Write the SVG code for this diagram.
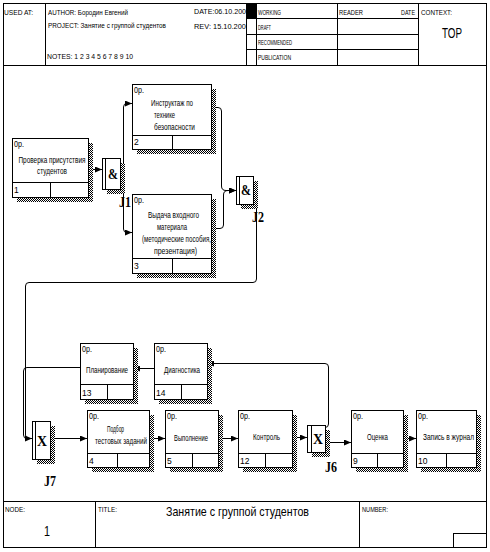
<svg xmlns="http://www.w3.org/2000/svg" width="490" height="552" viewBox="0 0 490 552">
<style>
.f{fill:none;stroke:#000;stroke-width:1}
.b{fill:#fff;stroke:#000;stroke-width:1}
.sh{fill:url(#hatch);stroke:none}
.t{font-family:"Liberation Sans",Arial,sans-serif;font-size:8.5px;fill:#000}
.h{font-family:"Liberation Sans",Arial,sans-serif;font-size:8px;fill:#000}
.bt{font-family:"Liberation Sans",Arial,sans-serif;font-size:8.5px;fill:#000;text-anchor:middle}
.j{font-family:"Liberation Serif","Times New Roman",serif;font-weight:bold;font-size:15px;fill:#000}
.jg{font-family:"Liberation Serif","Times New Roman",serif;font-weight:bold;font-size:15px;fill:#000;text-anchor:middle}
.c{fill:none;stroke:#000;stroke-width:1;marker-end:url(#arr)}
</style>
<defs>
<pattern id="hatch" width="2" height="2" patternUnits="userSpaceOnUse">
<rect width="2" height="2" fill="#fff"/>
<rect width="1" height="1" fill="#000"/>
<rect x="1" y="1" width="1" height="1" fill="#000"/>
</pattern>
<marker id="arr" markerWidth="7" markerHeight="6" refX="7" refY="3" orient="auto" markerUnits="userSpaceOnUse">
<path d="M0,0 L7,3 L0,6 Z" fill="#000"/>
</marker>
<clipPath id="hc"><rect x="0" y="0" width="246" height="66"/></clipPath>
</defs>
<rect width="490" height="552" fill="#fff"/>

<g id="frame">
<rect x="3.5" y="3.5" width="483" height="544" class="f"/>
<line x1="3" y1="65.5" x2="487" y2="65.5" class="f"/>
<line x1="45.5" y1="3" x2="45.5" y2="65" class="f"/>
<line x1="246.5" y1="3" x2="246.5" y2="65" class="f"/>
<line x1="256.5" y1="3" x2="256.5" y2="65" class="f"/>
<line x1="337.5" y1="3" x2="337.5" y2="65" class="f"/>
<line x1="418.5" y1="3" x2="418.5" y2="65" class="f"/>
<line x1="246" y1="18.5" x2="418" y2="18.5" class="f"/>
<line x1="246" y1="34.5" x2="418" y2="34.5" class="f"/>
<line x1="246" y1="49.5" x2="418" y2="49.5" class="f"/>
<rect x="246.5" y="3.5" width="10" height="15" fill="#000"/>
<text class="h" x="4" y="15" textLength="29" lengthAdjust="spacingAndGlyphs">USED AT:</text>
<text class="h" x="48" y="15" textLength="80" lengthAdjust="spacingAndGlyphs">AUTHOR: Бородин Евгений</text>
<text class="h" x="48" y="28" textLength="118" lengthAdjust="spacingAndGlyphs">PROJECT: Занятие с группой студентов</text>
<text class="h" x="47" y="59" textLength="86" lengthAdjust="spacingAndGlyphs">NOTES: 1 2 3 4 5 6 7 8 9 10</text>
<g clip-path="url(#hc)">
<text class="h" x="194" y="14" textLength="56" lengthAdjust="spacingAndGlyphs">DATE:06.10.2006</text>
<text class="h" x="194" y="29" textLength="56" lengthAdjust="spacingAndGlyphs">REV:  15.10.2006</text>
</g>
<text class="h" x="258" y="15" textLength="23" lengthAdjust="spacingAndGlyphs">WORKING</text>
<text class="h" x="258" y="30" textLength="13" lengthAdjust="spacingAndGlyphs">DRAFT</text>
<text class="h" x="258" y="45" textLength="34" lengthAdjust="spacingAndGlyphs">RECOMMENDED</text>
<text class="h" x="258" y="60" textLength="33" lengthAdjust="spacingAndGlyphs">PUBLICATION</text>
<text class="h" x="339" y="15" textLength="24" lengthAdjust="spacingAndGlyphs">READER</text>
<text class="h" x="401" y="15" textLength="14" lengthAdjust="spacingAndGlyphs">DATE</text>
<text class="h" x="421" y="15" textLength="31" lengthAdjust="spacingAndGlyphs">CONTEXT:</text>
<text class="t" x="442" y="38" style="font-size:14px" textLength="20" lengthAdjust="spacingAndGlyphs">TOP</text>
<line x1="3" y1="501.5" x2="487" y2="501.5" class="f"/>
<line x1="95.5" y1="501" x2="95.5" y2="547" class="f"/>
<line x1="359.5" y1="501" x2="359.5" y2="547" class="f"/>
<rect x="453.5" y="533.5" width="33" height="14" class="f"/>
<text class="h" x="5" y="512" textLength="20" lengthAdjust="spacingAndGlyphs">NODE:</text>
<text class="h" x="98" y="512" textLength="19" lengthAdjust="spacingAndGlyphs">TITLE:</text>
<text class="h" x="362" y="512" textLength="26" lengthAdjust="spacingAndGlyphs">NUMBER:</text>
<text class="t" x="44" y="536" style="font-size:14px" textLength="6" lengthAdjust="spacingAndGlyphs">1</text>
<text class="t" x="166" y="516" style="font-size:13px" textLength="143" lengthAdjust="spacingAndGlyphs">Занятие с группой студентов</text>
</g>

<g id="connectors">
<path class="c" d="M88,169.5 H102"/>
<path class="c" d="M120,167.5 H121 Q123.5,167.5 123.5,165 V107 Q123.5,103.5 127,103.5 H132"/>
<path class="c" d="M120,177.5 H121 Q123.5,177.5 123.5,180 V229 Q123.5,232.5 127,232.5 H132"/>
<path class="c" d="M211,107.5 H218 Q221.5,107.5 221.5,111 V186 Q221.5,190.5 226,190.5 H236"/>
<path class="c" d="M211,228.5 H220 Q223.5,228.5 223.5,225 V195 Q223.5,190.5 228,190.5 H236"/>
<path class="f" d="M253,184.5 H253 Q256.5,184.5 256.5,188 V279 Q256.5,282.5 253,282.5 H29 Q25.5,282.5 25.5,286 V435 Q25.5,438.5 28,438.5"/>
<path class="c" d="M80,367.5 H27 Q23.5,367.5 23.5,371 V435 Q23.5,438.5 27,438.5 H32"/>
<path class="c" d="M154,368.5 H133"/>
<path class="c" d="M325,427.5 Q328.5,427.5 328.5,424 V367 Q328.5,363.5 325,363.5 H207"/>
<path class="c" d="M50,438.5 H87"/>
<path class="c" d="M149,438.5 H165"/>
<path class="c" d="M218,438.5 H238"/>
<path class="c" d="M292,437.5 H307"/>
<path class="c" d="M325,442.5 H351"/>
<path class="c" d="M403,438.5 H416"/>
</g>

<g id="node1">
<rect x="17" y="143" width="76" height="59" class="sh"/>
<rect x="12.5" y="138.5" width="76" height="59" class="b"/>
<line x1="12" y1="182.5" x2="88" y2="182.5" class="f"/>
<line x1="50.5" y1="182" x2="50.5" y2="197" class="f"/>
<text class="t" x="14" y="147" textLength="10" lengthAdjust="spacingAndGlyphs">0р.</text>
<text class="bt" x="52" y="163" textLength="67" lengthAdjust="spacingAndGlyphs">Проверка присутствия</text>
<text class="bt" x="52" y="174" textLength="30" lengthAdjust="spacingAndGlyphs">студентов</text>
<text class="t" x="14" y="193">1</text>
</g>

<g id="J1">
<rect x="107" y="163" width="18" height="31" class="sh"/>
<rect x="102.5" y="158.5" width="18" height="31" class="b"/>
<line x1="105.5" y1="158" x2="105.5" y2="189" class="f"/>
<text class="jg" x="113" y="179" textLength="10" lengthAdjust="spacingAndGlyphs">&amp;</text>
<text class="j" x="119" y="207" textLength="12" lengthAdjust="spacingAndGlyphs">J1</text>
</g>

<g id="node2">
<rect x="137" y="89" width="79" height="65" class="sh"/>
<rect x="132.5" y="84.5" width="79" height="65" class="b"/>
<line x1="132" y1="135.5" x2="211" y2="135.5" class="f"/>
<line x1="172.5" y1="135" x2="172.5" y2="149" class="f"/>
<text class="t" x="134" y="93" textLength="10" lengthAdjust="spacingAndGlyphs">0р.</text>
<text class="t" x="151" y="106" textLength="42" lengthAdjust="spacingAndGlyphs">Инструктаж по</text>
<text class="t" x="154" y="118" textLength="21" lengthAdjust="spacingAndGlyphs">технике</text>
<text class="t" x="154" y="130" textLength="41" lengthAdjust="spacingAndGlyphs">безопасности</text>
<text class="t" x="134" y="145">2</text>
</g>

<g id="node3">
<rect x="137" y="199" width="79" height="79" class="sh"/>
<rect x="132.5" y="194.5" width="79" height="79" class="b"/>
<line x1="132" y1="258.5" x2="211" y2="258.5" class="f"/>
<line x1="172.5" y1="258" x2="172.5" y2="273" class="f"/>
<text class="t" x="134" y="203" textLength="10" lengthAdjust="spacingAndGlyphs">0р.</text>
<text class="t" x="148" y="218" textLength="51" lengthAdjust="spacingAndGlyphs">Выдача входного</text>
<text class="t" x="157" y="230" textLength="30" lengthAdjust="spacingAndGlyphs">материала</text>
<text class="t" x="142" y="242" textLength="69" lengthAdjust="spacingAndGlyphs">(методические пособия,</text>
<text class="t" x="154" y="254" textLength="43" lengthAdjust="spacingAndGlyphs">презентация)</text>
<text class="t" x="134" y="269">3</text>
</g>

<g id="J2">
<rect x="241" y="181" width="17" height="28" class="sh"/>
<rect x="236.5" y="176.5" width="17" height="28" class="b"/>
<line x1="239.5" y1="176" x2="239.5" y2="204" class="f"/>
<text class="jg" x="246" y="195" textLength="10" lengthAdjust="spacingAndGlyphs">&amp;</text>
<text class="j" x="252" y="222" textLength="12" lengthAdjust="spacingAndGlyphs">J2</text>
</g>

<g id="node13">
<rect x="85" y="348" width="53" height="56" class="sh"/>
<rect x="80.5" y="343.5" width="53" height="56" class="b"/>
<line x1="80" y1="384.5" x2="133" y2="384.5" class="f"/>
<line x1="107.5" y1="384" x2="107.5" y2="399" class="f"/>
<text class="t" x="82" y="352" textLength="10" lengthAdjust="spacingAndGlyphs">0р.</text>
<text class="t" x="86" y="373" textLength="42" lengthAdjust="spacingAndGlyphs">Планирование</text>
<text class="t" x="82" y="396">13</text>
</g>

<g id="node14">
<rect x="159" y="348" width="53" height="56" class="sh"/>
<rect x="154.5" y="343.5" width="53" height="56" class="b"/>
<line x1="154" y1="384.5" x2="207" y2="384.5" class="f"/>
<line x1="181.5" y1="384" x2="181.5" y2="399" class="f"/>
<text class="t" x="156" y="352" textLength="10" lengthAdjust="spacingAndGlyphs">0р.</text>
<text class="t" x="164" y="373" textLength="36" lengthAdjust="spacingAndGlyphs">Диагностика</text>
<text class="t" x="156" y="396">14</text>
</g>

<g id="J7">
<rect x="37" y="426" width="18" height="38" class="sh"/>
<rect x="32.5" y="421.5" width="18" height="38" class="b"/>
<line x1="35.5" y1="421" x2="35.5" y2="459" class="f"/>
<text class="jg" x="42" y="446" textLength="10" lengthAdjust="spacingAndGlyphs">X</text>
<text class="j" x="44" y="486" textLength="12" lengthAdjust="spacingAndGlyphs">J7</text>
</g>

<g id="node4">
<rect x="92" y="415" width="62" height="57" class="sh"/>
<rect x="87.5" y="410.5" width="62" height="57" class="b"/>
<line x1="87" y1="453.5" x2="149" y2="453.5" class="f"/>
<line x1="117.5" y1="453" x2="117.5" y2="467" class="f"/>
<text class="t" x="89" y="419" textLength="10" lengthAdjust="spacingAndGlyphs">0р.</text>
<text class="t" x="107" y="432" textLength="17" lengthAdjust="spacingAndGlyphs">Подбор</text>
<text class="t" x="95" y="444" textLength="52" lengthAdjust="spacingAndGlyphs">тестовых заданий</text>
<text class="t" x="89" y="464">4</text>
</g>

<g id="node5">
<rect x="170" y="415" width="53" height="57" class="sh"/>
<rect x="165.5" y="410.5" width="53" height="57" class="b"/>
<line x1="165" y1="453.5" x2="218" y2="453.5" class="f"/>
<line x1="192.5" y1="453" x2="192.5" y2="467" class="f"/>
<text class="t" x="167" y="419" textLength="10" lengthAdjust="spacingAndGlyphs">0р.</text>
<text class="t" x="174" y="441" textLength="34" lengthAdjust="spacingAndGlyphs">Выполнение</text>
<text class="t" x="167" y="464">5</text>
</g>

<g id="node12">
<rect x="243" y="415" width="54" height="57" class="sh"/>
<rect x="238.5" y="410.5" width="54" height="57" class="b"/>
<line x1="238" y1="453.5" x2="292" y2="453.5" class="f"/>
<line x1="265.5" y1="453" x2="265.5" y2="467" class="f"/>
<text class="t" x="240" y="419" textLength="10" lengthAdjust="spacingAndGlyphs">0р.</text>
<text class="t" x="253" y="440" textLength="27" lengthAdjust="spacingAndGlyphs">Контроль</text>
<text class="t" x="240" y="464">12</text>
</g>

<g id="J6">
<rect x="312" y="430" width="18" height="27" class="sh"/>
<rect x="307.5" y="425.5" width="18" height="27" class="b"/>
<line x1="311.5" y1="425" x2="311.5" y2="452" class="f"/>
<text class="jg" x="318" y="444" textLength="10" lengthAdjust="spacingAndGlyphs">X</text>
<text class="j" x="325" y="472" textLength="12" lengthAdjust="spacingAndGlyphs">J6</text>
</g>

<g id="node9">
<rect x="356" y="415" width="52" height="57" class="sh"/>
<rect x="351.5" y="410.5" width="52" height="57" class="b"/>
<line x1="351" y1="453.5" x2="403" y2="453.5" class="f"/>
<line x1="377.5" y1="453" x2="377.5" y2="467" class="f"/>
<text class="t" x="353" y="419" textLength="10" lengthAdjust="spacingAndGlyphs">0р.</text>
<text class="t" x="367" y="440" textLength="21" lengthAdjust="spacingAndGlyphs">Оценка</text>
<text class="t" x="353" y="464">9</text>
</g>

<g id="node10">
<rect x="421" y="415" width="60" height="57" class="sh"/>
<rect x="416.5" y="410.5" width="60" height="57" class="b"/>
<line x1="416" y1="453.5" x2="476" y2="453.5" class="f"/>
<line x1="446.5" y1="453" x2="446.5" y2="467" class="f"/>
<text class="t" x="418" y="419" textLength="10" lengthAdjust="spacingAndGlyphs">0р.</text>
<text class="t" x="423" y="440" textLength="51" lengthAdjust="spacingAndGlyphs">Запись в журнал</text>
<text class="t" x="418" y="464">10</text>
</g>
</svg>
